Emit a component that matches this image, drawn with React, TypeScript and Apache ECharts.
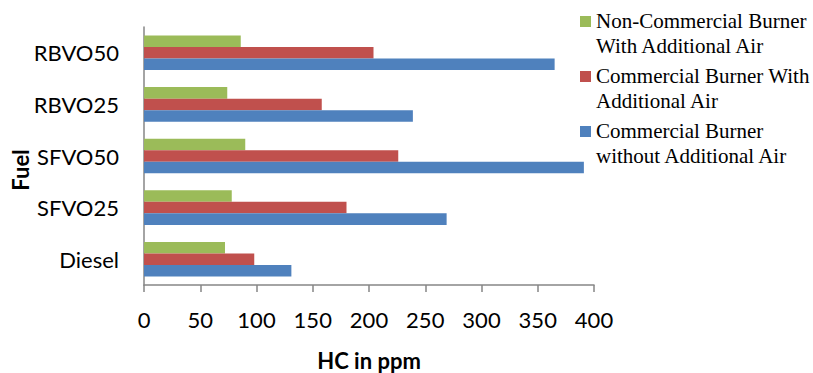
import React, { useEffect, useRef } from "react";
import * as echarts from "echarts";

const categories = ["Diesel", "SFVO25", "SFVO50", "RBVO25", "RBVO50"];
const nonCommercialWithAir = [72, 78, 90, 74, 86];
const commercialWithAir = [98, 180, 226, 158, 204];
const commercialWithoutAir = [131, 269, 391, 239, 365];
const seriesNames = [
  "Non-Commercial Burner With Additional Air",
  "Commercial Burner With Additional Air",
  "Commercial Burner without Additional Air",
];
const legendLabels = [
  "Non-Commercial Burner\nWith Additional Air",
  "Commercial Burner With\nAdditional Air",
  "Commercial Burner\nwithout Additional Air",
];
const yAxisTitle = "Fuel";

export default function App() {
  const ref = useRef<HTMLDivElement>(null);
  useEffect(() => {
    if (!ref.current) return;
    document.body.style.margin = "0";
    const chart = echarts.init(ref.current, null, { renderer: "svg" });
    const icon = "path://M0,0L0.01,0M0,8L11,8L11,19L0,19ZM0,50L0.01,50";
    chart.setOption({
      animation: false,
      grid: {
        left: 144,
        right: 219,
        top: 27,
        bottom: 88,
        containLabel: false,
        outerBoundsMode: "none",
      },
      graphic: [
        {
          type: "text",
          x: 20,
          y: 170,
          rotation: Math.PI / 2,
          style: {
            text: yAxisTitle,
            fontFamily: "Lato",
            fontSize: 22,
            fontWeight: "bold",
            fill: "#000",
            align: "center",
            verticalAlign: "middle",
          },
        },
      ],
      legend: {
        orient: "vertical",
        left: 580,
        top: 8,
        padding: 0,
        itemWidth: 11,
        itemHeight: 50,
        itemGap: 5,
        data: seriesNames.map((n) => ({ name: n, icon })),
        formatter: (name: string) => legendLabels[seriesNames.indexOf(name)],
        textStyle: {
          fontFamily: "Liberation Serif",
          fontSize: 21,
          lineHeight: 25,
          color: "#000",
        },
      },
      xAxis: {
        type: "value",
        min: 0,
        max: 400,
        interval: 50,
        name: "HC in ppm",
        nameLocation: "middle",
        nameGap: 64,
        nameTextStyle: { fontFamily: "Lato", fontSize: 22, fontWeight: "bold", color: "#000" },
        axisLine: { show: true, lineStyle: { color: "#868686", width: 1.5 } },
        axisTick: { show: true, length: 7, lineStyle: { color: "#868686", width: 1.5 } },
        splitLine: { show: false },
        axisLabel: { fontFamily: "Lato", fontSize: 22, color: "#000", margin: 23 },
      },
      yAxis: {
        type: "category",
        data: categories,
        axisLine: { show: true, lineStyle: { color: "#868686", width: 1.5 } },
        axisTick: { show: false },
        axisLabel: { fontFamily: "Lato", fontSize: 22, color: "#000", margin: 25 },
      },
      series: [
        {
          name: seriesNames[0],
          type: "bar",
          data: nonCommercialWithAir,
          itemStyle: { color: "#9BBB59" },
          barGap: "0%",
          barCategoryGap: "33%",
        },
        {
          name: seriesNames[1],
          type: "bar",
          data: commercialWithAir,
          itemStyle: { color: "#C0504D" },
          barGap: "0%",
          barCategoryGap: "33%",
        },
        {
          name: seriesNames[2],
          type: "bar",
          data: commercialWithoutAir,
          itemStyle: { color: "#4F81BD" },
          barGap: "0%",
          barCategoryGap: "33%",
        },
      ],
    });
    return () => chart.dispose();
  }, []);
  return <div ref={ref} style={{ width: 813, height: 373 }} />;
}
